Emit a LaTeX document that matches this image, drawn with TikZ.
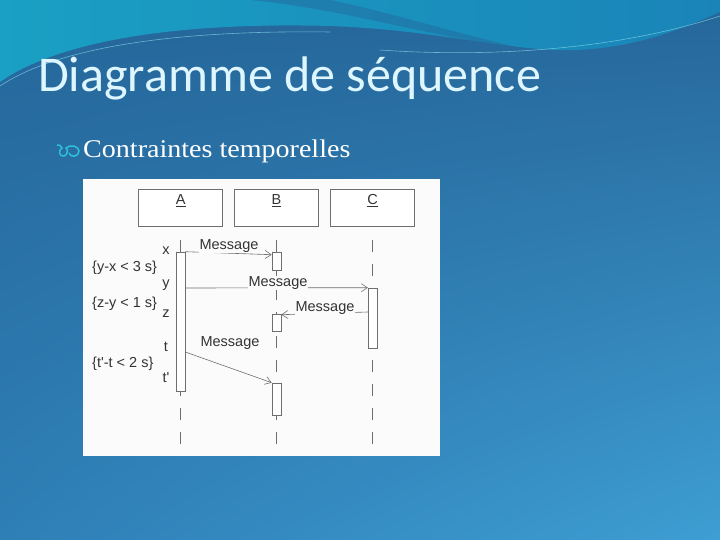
\documentclass[tikz,border=0pt]{standalone}
\usepackage{fontspec}
\setmainfont{Liberation Serif}
\newfontfamily\titlefont{Carlito}
\newfontfamily\diagfont{Liberation Sans}
\usetikzlibrary{arrows.meta, positioning, calc, shadings}
\definecolor{bgul}{HTML}{25669A}
\definecolor{bgur}{HTML}{266699}
\definecolor{bgll}{HTML}{2E7FB6}
\definecolor{bglr}{HTML}{3E9ED3}
\definecolor{tealleft}{HTML}{1AA0C4}
\definecolor{tealright}{HTML}{1A84B8}
\definecolor{titlecol}{HTML}{DDF6FF}
\definecolor{bulletcol}{HTML}{2EC0D8}
\definecolor{linegray}{HTML}{6E6E6E}
\definecolor{textgray}{HTML}{333333}
\tikzstyle{lifebox} = [rectangle, draw=linegray, fill=white, minimum width=84pt, minimum height=37pt, inner sep=0pt, line width=0.6pt]
\tikzstyle{activ} = [rectangle, draw=linegray, fill=white, minimum width=9pt, inner sep=0pt, line width=0.6pt]
\tikzstyle{lifeline} = [draw=linegray, line width=0.6pt, dash pattern=on 12pt off 12pt]
\tikzstyle{msg} = [draw=linegray, line width=0.6pt, -{Straight Barb[length=6pt, width=8pt]}]
\tikzstyle{txt} = [font=\diagfont\fontsize{14.5}{16}\selectfont, text=textgray, inner sep=1pt]

\begin{document}
\begin{tikzpicture}[x=1pt, y=-1pt]
    \useasboundingbox (0,0) rectangle (720,540);
    % slide background
    \shade[upper left=bgul, upper right=bgur, lower left=bgll, lower right=bglr] (0,0) rectangle (720,540);
    \shade[left color=tealleft, right color=tealright] (0,0) -- (0,82) .. controls (60,40) and (180,22) .. (330,26) .. controls (440,30) and (510,52) .. (575,50) .. controls (640,48) and (690,25) .. (720,12) -- (720,0) -- cycle;
    \fill[bgul, opacity=0.45] (250,0) .. controls (350,10) and (420,35) .. (520,48) .. controls (430,26) and (380,10) .. (330,0) -- cycle;
    \draw[bulletcol!60!white, opacity=0.7, line width=0.6pt] (0,86) .. controls (60,46) and (180,30) .. (330,32);
    \draw[bulletcol!60!white, opacity=0.7, line width=0.6pt] (380,50) .. controls (480,57) and (610,52) .. (720,16);

    % title and bullet
    \node[anchor=base west, inner sep=0pt, text=titlecol, font=\titlefont\fontsize{50}{56}\selectfont] (title) at (38,92) {Diagramme de séquence};
    \draw[bulletcol, line width=1.5pt] (57,145) .. controls (59,144) and (61,146) .. (62,148)
        .. controls (58,150) and (59,157) .. (64,156) .. controls (68,155) and (68,149) .. (66,148)
        .. controls (70,144) and (79,146) .. (79,151) .. controls (79,157) and (70,158) .. (69,153);
    \node[anchor=base west, inner sep=0pt, text=white, xscale=1.1, transform shape, font=\fontsize{25.5}{30}\selectfont] (bullet) at (83,158) {Contraintes temporelles};

    % sequence diagram
    \fill[white!97!gray] (83,179) rectangle (440,456);
    \node[lifebox] (boxA) at (180.7,208.3) {};
    \node[lifebox] (boxB) at (276.5,208.3) {};
    \node[lifebox] (boxC) at (372.7,208.3) {};
    \node[txt, anchor=north] (labA) at ($(boxA.north)+(0,4)$) {\underline{A}};
    \node[txt, anchor=north] (labB) at ($(boxB.north)+(0,4)$) {\underline{B}};
    \node[txt, anchor=north] (labC) at ($(boxC.north)+(0,4)$) {\underline{C}};

    \draw[lifeline] (180.5,240) -- (180.5,448);
    \draw[lifeline] (276.5,240) -- (276.5,448);
    \draw[lifeline] (372.7,240) -- (372.7,448);

    \node[activ, minimum height=139pt] (actA) at (180.5,321.5) {};
    \node[activ, minimum height=18pt] (actB1) at (276.5,261) {};
    \node[activ, minimum height=17pt] (actB2) at (276.5,322.5) {};
    \node[activ, minimum height=32pt] (actB3) at (276.5,399) {};
    \node[activ, minimum height=60pt] (actC) at (372.7,318) {};

    % time marks and constraints
    \node[txt] (tx) at (166,251) {x};
    \node[txt] (ty) at (166,285) {y};
    \node[txt] (tz) at (166,314) {z};
    \node[txt] (tt) at (166,347) {t};
    \node[txt] (ttp) at (166,378) {t'};
    \node[txt, anchor=west] (cyx) at (91,268) {\{y-x < 3 s\}};
    \node[txt, anchor=west] (czy) at (91,304) {\{z-y < 1 s\}};
    \node[txt, anchor=west] (ctt) at (91,364) {\{t'-t < 2 s\}};

    % messages
    \draw[msg] (actA.north east) -- ($(actB1.north west)+(0,3)$);
    \node[txt, fill=white!97!gray] (lblM1) at (229,246) {Message};
    \draw[msg] (actA.east |- 0,288) -- (actC.north west);
    \node[txt, fill=white!97!gray] (lblM2) at (278,283) {Message};
    \draw[msg] (actC.west |- 0,312) -- ($(actB2.north east)+(0,1)$);
    \node[txt, fill=white!97!gray] (lblM3) at (325,308) {Message};
    \draw[msg] (actA.east |- 0,352) -- (actB3.north west);
    \node[txt] (lblM4) at (230,343) {Message};
\end{tikzpicture}
\end{document}
